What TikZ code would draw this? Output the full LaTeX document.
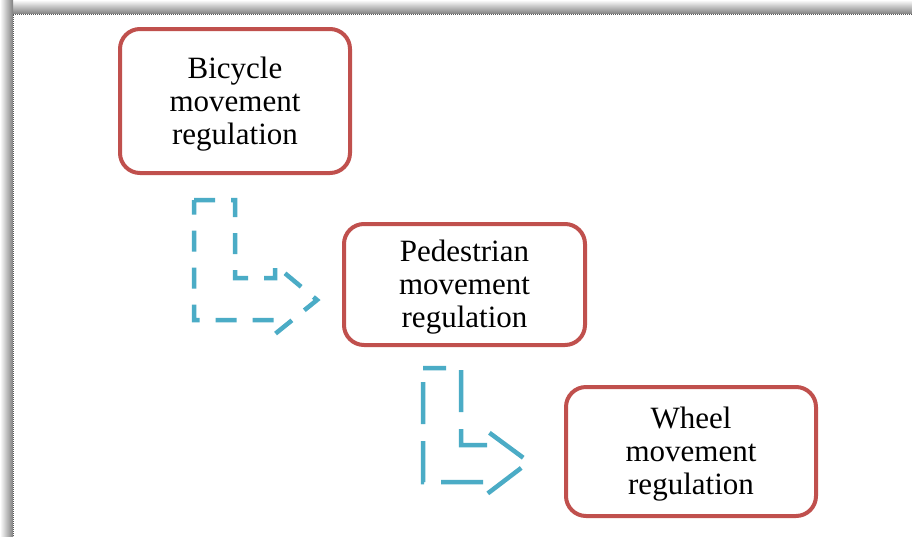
\documentclass[tikz,border=0pt]{standalone}
\usepackage{fontspec}
\setmainfont{Liberation Serif}
\definecolor{boxred}{HTML}{C0504D}
\definecolor{aqua}{HTML}{4BACC6}
\newcommand{\firstline}{\rule{0pt}{27pt}}
\tikzset{
  box/.style={draw=boxred, line width=4pt, rounded corners=20pt, fill=white,
    align=center, inner sep=0pt, font=\fontsize{31}{33}\selectfont},
  bentarrow/.style={draw=aqua, line width=4.5pt, line join=miter}
}
\begin{document}
\begin{tikzpicture}[x=1pt,y=-1pt]
\useasboundingbox (0,0) rectangle (912,536);
% frame shadow
\shade[top color=white, bottom color=black!50] (0,0) rectangle (912,14);
\shade[left color=white, right color=black!50] (0,0) rectangle (13,536);
\fill[white] (13,14) rectangle (912,536);
\draw[black!65, line width=1pt, dash pattern=on 1pt off 1pt] (13,536) -- (13,14) -- (912,14);

% boxes
\node[box, minimum width=230pt, minimum height=144pt] (b1) at (235,101)
  {\firstline Bicycle\\movement\\regulation};
\node[box, minimum width=241pt, minimum height=121pt] (b2) at (464.5,284.5)
  {\firstline Pedestrian\\movement\\regulation};
\node[box, minimum width=250pt, minimum height=129pt] (b3) at (691,451.5)
  {\firstline Wheel\\movement\\regulation};

% bent arrows
\draw[bentarrow, dash pattern=on 21pt off 16pt]
  (194,200) -- (235,200) -- (235,278) -- (275,278) -- (275,265)
  -- (317,300) -- (275,334) -- (275,320) -- (194,320) -- cycle;
\draw[bentarrow, dash pattern=on 42pt off 17pt, dash phase=-40pt]
  (423,368) -- (461,368) -- (461,445) -- (487,445) -- (487,431)
  -- (529,462) -- (487,494) -- (487,482) -- (423,482) -- cycle;
\end{tikzpicture}
\end{document}
